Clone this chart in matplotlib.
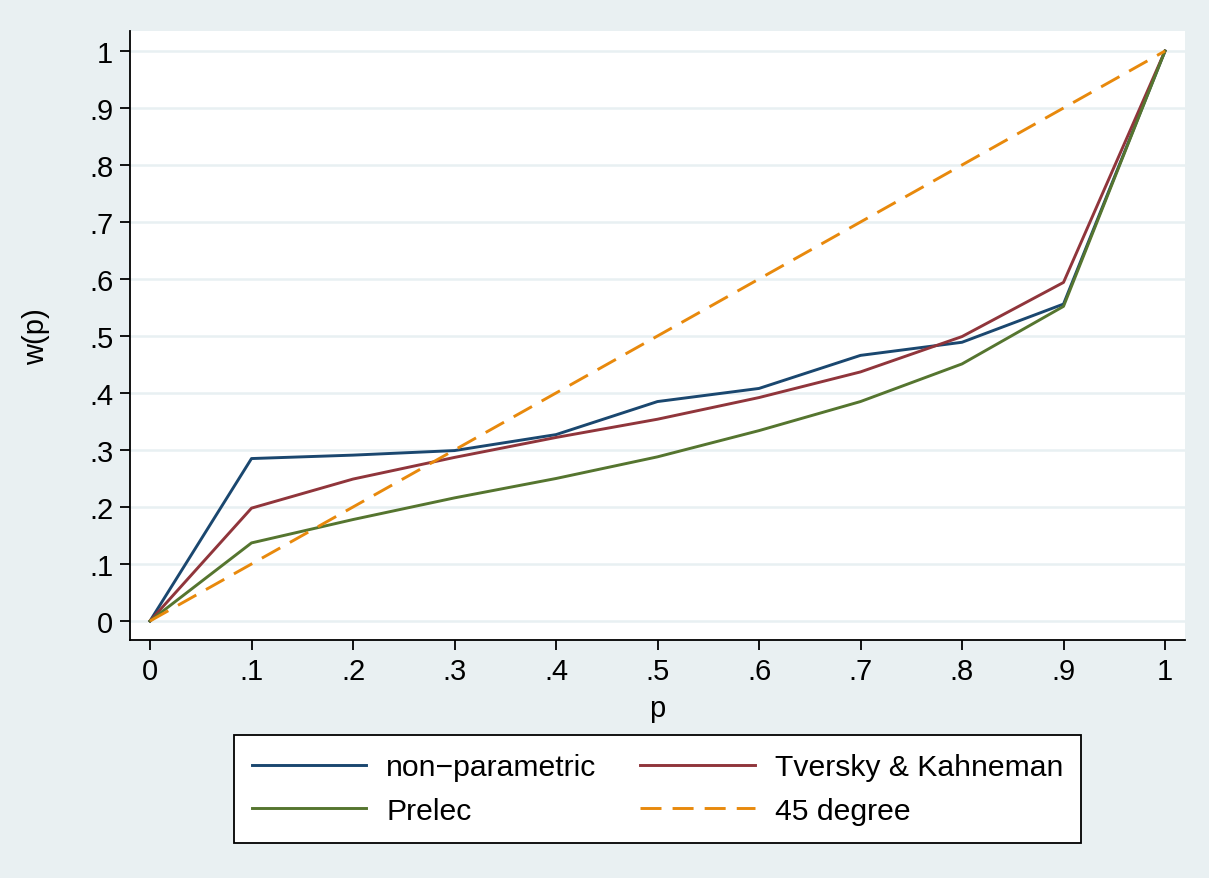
import matplotlib
matplotlib.use("Agg")
import matplotlib.pyplot as plt

# data
p = [0.0, 0.1, 0.2, 0.3, 0.4, 0.5, 0.6, 0.7, 0.8, 0.9, 1.0]
nonparam = [0.0, 0.285, 0.291, 0.299, 0.327, 0.385, 0.408, 0.466, 0.489, 0.556, 1.0]
tk = [0.0, 0.198, 0.249, 0.287, 0.322, 0.354, 0.392, 0.437, 0.499, 0.594, 1.0]
prelec = [0.0, 0.137, 0.178, 0.216, 0.250, 0.288, 0.334, 0.385, 0.451, 0.552, 1.0]
deg45 = [0.0, 0.1, 0.2, 0.3, 0.4, 0.5, 0.6, 0.7, 0.8, 0.9, 1.0]
ticks = [0.0, 0.1, 0.2, 0.3, 0.4, 0.5, 0.6, 0.7, 0.8, 0.9, 1.0]
tick_labels = ["0", ".1", ".2", ".3", ".4", ".5", ".6", ".7", ".8", ".9", "1"]
names = ["non\u2212parametric", "Tversky & Kahneman", "Prelec", "45 degree"]

plt.rcParams['font.family'] = ['Liberation Sans', 'DejaVu Sans']

W, H = 1209, 879
fig = plt.figure(figsize=(W / 100, H / 100), dpi=100)
bg = "#E9F0F2"
fig.patch.set_facecolor(bg)

ax = fig.add_axes([130 / W, 1 - 641 / H, (1185 - 130) / W, (641 - 32) / H])
ax.set_facecolor("white")

lw = 2.1
l1, = ax.plot(p, nonparam, color="#1a476f", lw=lw)
l2, = ax.plot(p, tk, color="#90353b", lw=lw)
l3, = ax.plot(p, prelec, color="#55752f", lw=lw)
l4, = ax.plot(p, deg45, color="#e8890c", lw=lw, dashes=(7.2, 3.8))

ax.set_xlim(-20 / 1015, 1 + 20 / 1015)
ax.set_ylim(-19 / 570, 1 + 20 / 570)
ax.set_xticks(ticks)
ax.set_xticklabels(tick_labels)
ax.set_yticks(ticks)
ax.set_yticklabels(tick_labels)
ax.tick_params(axis='both', labelsize=21, length=7, width=1.3, color="black", direction='out', pad=5)
ax.yaxis.grid(True, color="#E8F0F2", lw=1.8)
ax.set_axisbelow(True)

for s in ["top", "right"]:
    ax.spines[s].set_visible(False)
for s in ["left", "bottom"]:
    ax.spines[s].set_linewidth(1.3)

ax.set_xlabel("p", fontsize=21, labelpad=7)
ax.set_ylabel("w(p)", fontsize=21, labelpad=28)

leg = fig.legend([l1, l3, l2, l4], [names[0], names[2], names[1], names[3]],
                 ncol=2, loc="center", bbox_to_anchor=(657.5 / W, 1 - 790 / H),
                 fontsize=21.7, frameon=True, fancybox=False, edgecolor="black",
                 framealpha=1.0,
                 handlelength=3.8, handletextpad=0.66, columnspacing=1.46,
                 labelspacing=0.5, borderpad=0.6)
leg.get_frame().set_linewidth(1.3)
leg.get_frame().set_facecolor("white")

fig.savefig("out.png", dpi=100, facecolor=bg)
